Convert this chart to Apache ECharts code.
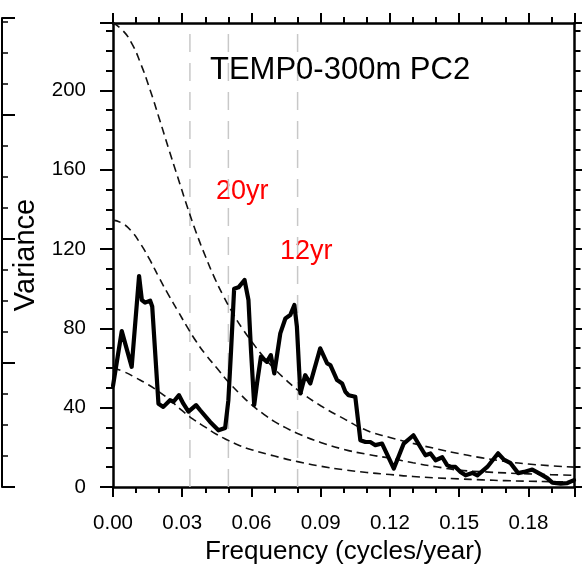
<!DOCTYPE html>
<html>
<head>
<meta charset="utf-8">
<script src="https://cdn.jsdelivr.net/npm/echarts@6/dist/echarts.min.js"></script>
<style>html,body{margin:0;padding:0;background:#fff}#c{width:582px;height:571px}</style>
</head>
<body>
<div id="c"></div>
<script>
// ---- data ----
var spectrum = [
  [0.0000,51],[0.0038,78.6],[0.0081,60.6],[0.0113,106.4],[0.0125,94.3],[0.0139,93],[0.0161,94],[0.0170,91],
  [0.0197,42],[0.0218,40.4],[0.0247,43.8],[0.0262,43],[0.0286,46.3],[0.0305,42],[0.0327,38],[0.0360,41.3],
  [0.0378,38.7],[0.0421,32.8],[0.0457,28.6],[0.0486,29.8],[0.0500,43.8],[0.0511,67.4],[0.0525,100],[0.0544,100.7],
  [0.0570,104.4],[0.0587,94.3],[0.0598,69],[0.0612,41.3],[0.0624,52.2],[0.0641,65.7],[0.0667,63.1],[0.0684,66.5],
  [0.0699,57.3],[0.0725,77.5],[0.0747,85],[0.0768,86.7],[0.0786,91.8],[0.0797,80.8],[0.0812,47.2],[0.0833,56.4],
  [0.0855,52.2],[0.0898,69.9],[0.0928,62.3],[0.0942,61.5],[0.0971,53.9],[0.0993,52.2],[0.1007,48],[0.1021,46.3],
  [0.1050,45.5],[0.1072,23.6],[0.1094,22.7],[0.1115,22.7],[0.1137,21.1],[0.1166,21.9],[0.1217,9.3],[0.1260,21.9],
  [0.1302,26.1],[0.1332,20.2],[0.1354,16],[0.1376,16.9],[0.1398,13.5],[0.1427,15],[0.1448,11],[0.1463,10.2],
  [0.1484,10.1],[0.1506,7.6],[0.1528,5.9],[0.1557,7.1],[0.1579,5.9],[0.1622,10.1],[0.1669,17],[0.1694,13.8],
  [0.1723,12],[0.1756,7],[0.1781,7.6],[0.1817,8.8],[0.1853,6.5],[0.1882,4.5],[0.1904,2.2],[0.1940,1.7],
  [0.1969,2],[0.1998,3.5]
];
var upperBound = [
  [0,234],[0.004,230.5],[0.008,224],[0.012,213.5],[0.016,200.5],[0.02,186],[0.024,171],[0.028,156.5],
  [0.032,142],[0.036,128.5],[0.04,116.5],[0.044,105.5],[0.048,96],[0.052,87.5],[0.056,80],[0.06,73.5],
  [0.065,66],[0.07,59.5],[0.075,54],[0.08,49],[0.09,41],[0.1,34.5],[0.11,28.5],[0.12,25],[0.13,22],
  [0.14,19.3],[0.15,16.8],[0.16,14.7],[0.17,12.9],[0.18,11.6],[0.19,10.7],[0.2,10]
];
var middleBound = [
  [0,134.6],[0.004,133],[0.008,129],[0.012,122.5],[0.016,114.5],[0.02,105.5],[0.024,97],[0.028,89],
  [0.032,81],[0.036,73.5],[0.04,67],[0.045,60],[0.05,53],[0.055,47],[0.06,41.5],[0.065,37],[0.07,33],
  [0.075,29.8],[0.08,27],[0.09,22.5],[0.1,19],[0.11,16.5],[0.12,14.5],[0.13,12.2],[0.14,10.2],[0.15,8.5],
  [0.16,7.7],[0.17,7.1],[0.18,6.6],[0.19,6.2],[0.2,5.9]
];
var lowerBound = [
  [0,60],[0.005,58],[0.01,55],[0.015,51.8],[0.02,48],[0.025,43.5],[0.03,38.5],[0.035,34],[0.04,30.2],
  [0.045,26.5],[0.05,23.5],[0.055,20.8],[0.06,18.8],[0.07,15.6],[0.08,12.8],[0.09,10.5],[0.1,8.7],
  [0.11,7.3],[0.12,6.3],[0.13,5.3],[0.14,4.6],[0.15,4.1],[0.16,3.6],[0.17,3.2],[0.18,2.9],[0.19,2.7],[0.2,2.5]
];
var periodLines = [1/30, 0.05, 0.08];
var xTickLabels = ['0.00','0.03','0.06','0.09','0.12','0.15','0.18'];
var yTickLabels = ['0','40','80','120','160','200'];
var titleText = 'TEMP0-300m PC2';
var annotations = ['20yr','12yr'];

var X_MAX = 0.2, Y_MAX = 234;
var FONT = '"Liberation Sans", Arial, Helvetica, sans-serif';

function xFmt(v){
  var k = Math.round(v/0.03);
  if (Math.abs(v - k*0.03) < 1e-6 && k < xTickLabels.length) return xTickLabels[k];
  return '';
}
function yFmt(v){
  var k = Math.round(v/40);
  if (Math.abs(v - k*40) < 1e-6 && k < yTickLabels.length) return yTickLabels[k];
  return '';
}
function xAxisDef(pos, interval, len, labels, line){
  return {type:'value', gridIndex:0, position:pos, min:0, max:X_MAX, interval:interval,
    axisLine:{show:line, onZero:false, lineStyle:{color:'#000', width:2.5}},
    axisTick:{show:true, inside:false, length:len, lineStyle:{color:'#000', width:2}},
    axisLabel:{show:labels, formatter:xFmt, margin:26, color:'#000', fontSize:20.5, fontFamily:FONT},
    splitLine:{show:false}};
}
function yAxisDef(pos, interval, len, labels, line){
  return {type:'value', gridIndex:0, position:pos, min:0, max:Y_MAX, interval:interval,
    axisLine:{show:line, onZero:false, lineStyle:{color:'#000', width:2.5}},
    axisTick:{show:true, inside:false, length:len, lineStyle:{color:'#000', width:2}},
    axisLabel:{show:labels, formatter:yFmt, margin:27, color:'#000', fontSize:20.5, fontFamily:FONT},
    splitLine:{show:false}};
}

var series = [];
periodLines.forEach(function(f){
  series.push({type:'line', xAxisIndex:0, yAxisIndex:0, data:[[f,0],[f,Y_MAX]], symbol:'none', silent:true,
    lineStyle:{color:'#c8c8c8', width:1.5, type:[18,11]}, z:1});
});
[upperBound, middleBound, lowerBound].forEach(function(d){
  series.push({type:'line', xAxisIndex:0, yAxisIndex:0, data:d, smooth:true, symbol:'none', silent:true,
    lineStyle:{color:'#111', width:1.6, type:[8,5]}, z:2});
});
series.push({type:'line', xAxisIndex:0, yAxisIndex:0, data:spectrum, symbol:'none',
  lineStyle:{color:'#000', width:4.2, join:'round', cap:'round'}, z:3});

var chart = echarts.init(document.getElementById('c'), null, {renderer:'canvas'});
chart.setOption({
  animation:false,
  backgroundColor:'#fff',
  grid:[
    {left:113, right:7.5, top:23, bottom:84, containLabel:false, outerBoundsMode:'none'},
    {left:2, width:60, top:18, bottom:84, containLabel:false, outerBoundsMode:'none'}
  ],
  title:{text:titleText, left:210, top:55, padding:0,
    textStyle:{fontSize:31, fontWeight:'normal', color:'#000', fontFamily:FONT}},
  xAxis:[
    Object.assign(xAxisDef('bottom',0.03,10,true,true),{name:'Frequency (cycles/year)', nameLocation:'middle', nameGap:52,
      nameTextStyle:{fontSize:26, color:'#000', fontFamily:FONT}}),
    xAxisDef('bottom',0.01,6,false,false),
    xAxisDef('top',0.03,10,false,true),
    xAxisDef('top',0.01,6,false,false),
    {type:'value', gridIndex:1, show:false, min:0, max:1}
  ],
  yAxis:[
    Object.assign(yAxisDef('left',40,13,true,true),{name:'Variance', nameLocation:'middle', nameGap:69,
      nameTextStyle:{fontSize:29, color:'#000', fontFamily:FONT}}),
    yAxisDef('left',10,7,false,false),
    yAxisDef('right',40,10,false,true),
    yAxisDef('right',10,6,false,false),
    {type:'value', gridIndex:1, position:'left', min:0, max:469/31, interval:4,
      axisLine:{show:true, onZero:false, lineStyle:{color:'#000', width:2}},
      axisTick:{show:true, inside:true, length:13, lineStyle:{color:'#000', width:2}},
      axisLabel:{show:false}, splitLine:{show:false}},
    {type:'value', gridIndex:1, position:'left', min:0, max:469/31, interval:1,
      axisLine:{show:false, onZero:false},
      axisTick:{show:true, inside:true, length:6, lineStyle:{color:'#000', width:1.5}},
      axisLabel:{show:false}, splitLine:{show:false}}
  ],
  graphic:[
    {type:'text', left:216, top:178, style:{text:annotations[0], fill:'#ff0000', font:'27px '+FONT}},
    {type:'text', left:280, top:238, style:{text:annotations[1], fill:'#ff0000', font:'27px '+FONT}}
  ],
  series:series
});
</script>
</body>
</html>
